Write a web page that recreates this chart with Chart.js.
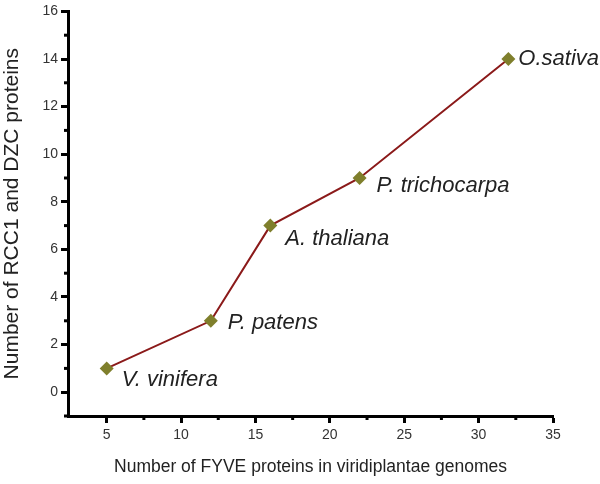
<!DOCTYPE html>
<html>
<head>
<meta charset="utf-8">
<script src="https://cdn.jsdelivr.net/npm/chart.js@4"></script>
<style>
  html, body { margin: 0; padding: 0; background: #fff; }
  #wrap { width: 600px; height: 484px; }
</style>
</head>
<body>
<div id="wrap"><canvas id="chart1"></canvas></div>
<script>
// data
const species = ['V. vinifera', 'P. patens', 'A. thaliana', 'P. trichocarpa', 'O.sativa'];
const fyveCounts = [5, 12, 16, 22, 32];
const rccCounts = [1, 3, 7, 9, 14];
const xTickValues = [5, 10, 15, 20, 25, 30, 35];
const yTickValues = [0, 2, 4, 6, 8, 10, 12, 14, 16];

// where each species name sits relative to its point
const labelOffsets = [[15, 11], [17, 2], [15, 13], [17, 8], [10, 0]];

const minorTicks = {
  id: 'minorTicks',
  afterDraw(chart) {
    const ctx = chart.ctx;
    const xs = chart.scales.x, ys = chart.scales.y;
    ctx.save();
    ctx.strokeStyle = '#000';
    ctx.lineWidth = 3;
    for (let v = 7.5; v < 35; v += 5) {
      const px = xs.getPixelForValue(v);
      ctx.beginPath(); ctx.moveTo(px, xs.top); ctx.lineTo(px, xs.top + 4); ctx.stroke();
    }
    for (let v = -1; v < 16; v += 2) {
      const py = ys.getPixelForValue(v);
      ctx.beginPath(); ctx.moveTo(ys.right, py); ctx.lineTo(ys.right - 4, py); ctx.stroke();
    }
    ctx.restore();
  }
};

const pointNames = {
  id: 'pointNames',
  afterDatasetsDraw(chart) {
    const ctx = chart.ctx;
    const pts = chart.getDatasetMeta(0).data;
    ctx.save();
    ctx.font = 'italic 22px "Liberation Sans", Arial, sans-serif';
    ctx.fillStyle = '#222';
    ctx.textBaseline = 'middle';
    ctx.textAlign = 'left';
    pts.forEach((p, i) => {
      ctx.fillText(species[i], p.x + labelOffsets[i][0], p.y + labelOffsets[i][1]);
    });
    ctx.restore();
  }
};

new Chart(document.getElementById('chart1'), {
  type: 'scatter',
  data: {
    datasets: [{
      data: fyveCounts.map((x, i) => ({ x: x, y: rccCounts[i] })),
      showLine: true,
      borderColor: '#8b1a1a',
      borderWidth: 2,
      pointStyle: 'rectRot',
      pointRadius: 7,
      pointHoverRadius: 7,
      pointBackgroundColor: '#7f7f2c',
      pointBorderColor: '#7f7f2c',
      pointBorderWidth: 0
    }]
  },
  options: {
    responsive: true,
    maintainAspectRatio: false,
    animation: false,
    layout: { padding: { top: 6, right: 47, left: 0, bottom: 0 } },
    plugins: { legend: { display: false }, tooltip: { enabled: false } },
    scales: {
      x: {
        type: 'linear',
        min: 2.4,
        max: 35,
        afterBuildTicks: s => { s.ticks = xTickValues.map(v => ({ value: v })); },
        afterFit: s => { s.height = 68; },
        border: { display: true, color: '#000', width: 3 },
        grid: { drawOnChartArea: false, drawTicks: true, tickLength: 7, tickWidth: 3, tickColor: '#000' },
        ticks: { color: '#333', font: { family: '"Liberation Sans", Arial, sans-serif', size: 14 }, padding: 4, maxRotation: 0 },
        title: {
          display: true,
          text: 'Number of FYVE proteins in viridiplantae genomes',
          color: '#222',
          font: { family: '"Liberation Sans", Arial, sans-serif', size: 17.5 },
          padding: { top: 0, bottom: 6 }
        }
      },
      y: {
        type: 'linear',
        min: -1,
        max: 16,
        afterBuildTicks: s => { s.ticks = yTickValues.map(v => ({ value: v })); },
        afterFit: s => { s.width = 68; },
        border: { display: true, color: '#000', width: 3 },
        grid: { drawOnChartArea: false, drawTicks: true, tickLength: 7, tickWidth: 3, tickColor: '#000' },
        ticks: { color: '#333', font: { family: '"Liberation Sans", Arial, sans-serif', size: 14 }, padding: 3 },
        title: {
          display: true,
          text: 'Number of RCC1 and DZC proteins',
          color: '#222',
          font: { family: '"Liberation Sans", Arial, sans-serif', size: 21 },
          padding: { top: 0, bottom: 0 }
        }
      }
    }
  },
  plugins: [minorTicks, pointNames]
});
</script>
</body>
</html>
